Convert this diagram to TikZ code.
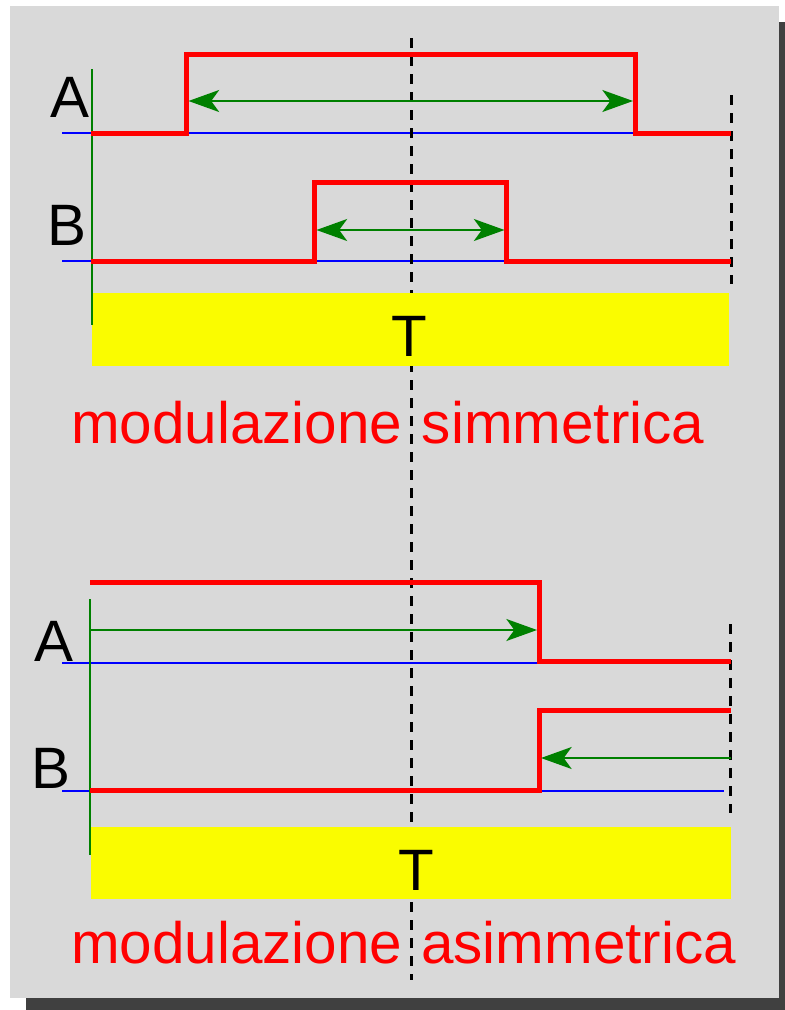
\documentclass[tikz,border=0pt]{standalone}
\usepackage{fontspec}
\setmainfont{Liberation Sans}
\usetikzlibrary{arrows.meta}
\definecolor{panelgray}{HTML}{D9D9D9}
\definecolor{shadowgray}{HTML}{404040}
\definecolor{spangreen}{HTML}{008000}
\definecolor{barYellow}{HTML}{FAFC00}
\begin{document}
\begin{tikzpicture}[x=0.75pt,y=-0.75pt,
  sig/.style={red, line width=3.75pt, line join=miter},
  baseline/.style={blue, line width=1.6pt},
  axisline/.style={spangreen, line width=1.5pt},
  span/.style={spangreen, line width=1.5pt,
    >={Stealth[length=23pt,width=16.5pt,inset=6pt]}},
  guide/.style={black, line width=2.25pt, dash pattern=on 7.5pt off 6pt},
  bar/.style={fill=barYellow, draw=none},
  big/.style={inner sep=0pt, font=\fontsize{43.8pt}{52pt}\selectfont},
  caption/.style={big, text=red, anchor=base west},
  letter/.style={big, text=black, anchor=base west}
]
\useasboundingbox (0,0) rectangle (785,1010);
\clip (0,0) rectangle (785,1010);

% panel with drop shadow
\fill[shadowgray] (26,22) rectangle (800,1020);
\fill[panelgray] (10,6) rectangle (779,998);

% ---------- symmetric modulation ----------
\draw[baseline] (62,133) -- (730,133);
\draw[baseline] (62,261) -- (730,261);
\draw[guide] (731,95) -- (731,284);

% ---------- asymmetric modulation ----------
\draw[baseline] (62,663) -- (539,663);
\draw[baseline] (62,791) -- (724,791);
\draw[guide] (730.5,624) -- (730.5,813);

% common period marker
\draw[guide] (411.5,38) -- (411.5,980);

% period bars
\fill[bar] (92,293) rectangle (729,366);
\fill[bar] (91,827) rectangle (731,899);
\node[big, anchor=base] (T1) at (409,356) {T};
\node[big, anchor=base] (T2) at (416,890) {T};

% time axes
\draw[axisline] (91.5,69) -- (91.5,325);
\draw[axisline] (90,599) -- (90,855);

% symmetric signals
\draw[sig] (91,133.5) -- (186.5,133.5) -- (186.5,54) -- (635,54) -- (635,133.5) -- (731,133.5);
\draw[sig] (91,261.5) -- (314.5,261.5) -- (314.5,182) -- (506.5,182) -- (506.5,261.5) -- (731,261.5);
\coordinate (a1) at (188.5,101);
\coordinate (a2) at (633,101);
\coordinate (b1) at (316.5,230);
\coordinate (b2) at (504.5,230);
\draw[span,<->] (a1) -- (a2);
\draw[span,<->] (b1) -- (b2);

% asymmetric signals
\draw[sig] (90,582) -- (539,582) -- (539,661.5) -- (731,661.5);
\draw[sig] (90,790.5) -- (539,790.5) -- (539,710.5) -- (731,710.5);
\coordinate (c1) at (90,630);
\coordinate (c2) at (537,630);
\coordinate (d1) at (731,758);
\coordinate (d2) at (541,758);
\draw[span,->] (c1) -- (c2);
\draw[span,->] (d1) -- (d2);

% channel labels
\node[letter] (A1) at (50,117) {A};
\node[letter] (B1) at (47.5,245) {B};
\node[letter] (A2) at (34,661) {A};
\node[letter] (B2) at (31.5,788) {B};

% captions
\node[caption] (cap1) at (71,443) {modulazione\hspace{2.5pt} simmetrica};
\node[caption] (cap2) at (71,963) {modulazione\hspace{2pt} asimmetrica};
\end{tikzpicture}
\end{document}
